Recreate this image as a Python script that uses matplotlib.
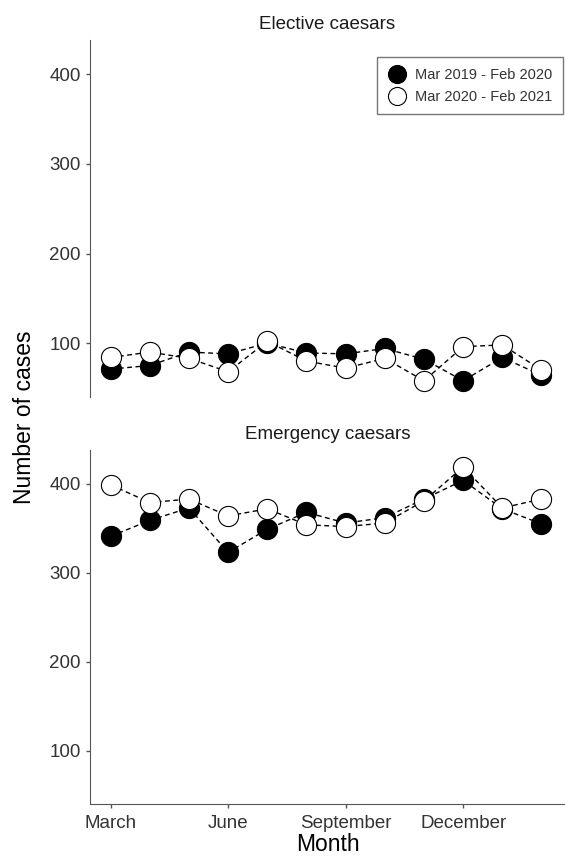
import matplotlib
matplotlib.use("Agg")
import matplotlib.pyplot as plt
from matplotlib.lines import Line2D

plt.rcParams['font.family'] = ['Liberation Sans', 'DejaVu Sans']

months = ['March', 'April', 'May', 'June', 'July', 'August', 'September',
          'October', 'November', 'December', 'January', 'February']
tick_months = ['March', 'June', 'September', 'December']

# elective caesars
elective_2019 = [71, 75, 90, 88, 100, 89, 88, 94, 82, 58, 84, 64]
elective_2020 = [84, 90, 83, 68, 102, 80, 72, 83, 58, 96, 98, 70]

# emergency caesars
emergency_2019 = [341, 359, 373, 323, 349, 368, 356, 362, 383, 404, 372, 355]
emergency_2020 = [399, 379, 383, 364, 372, 354, 352, 356, 381, 419, 373, 383]

labels = ['Mar 2019 - Feb 2020', 'Mar 2020 - Feb 2021']
titles = ['Elective caesars', 'Emergency caesars']

grey = '#333333'
ms = 14.5

fig = plt.figure(figsize=(5.65, 8.59), dpi=100)
ax1 = fig.add_axes([0.159, 0.538, 0.841, 0.415])
ax2 = fig.add_axes([0.159, 0.064, 0.841, 0.412])

x = list(range(len(months)))

for ax, (old, new), title in zip([ax1, ax2],
                                 [(elective_2019, elective_2020),
                                  (emergency_2019, emergency_2020)],
                                 titles):
    ax.plot(x, old, ls=(0, (3.5, 2.5)), color='black', lw=1, zorder=1)
    ax.plot(x, new, ls=(0, (3.5, 2.5)), color='black', lw=1, zorder=1)
    ax.plot(x, old, ls='none', marker='o', ms=ms, mfc='black', mec='black',
            mew=0.8, zorder=2)
    ax.plot(x, new, ls='none', marker='o', ms=ms, mfc='white', mec='black',
            mew=0.8, zorder=3)
    ax.set_xlim(-0.53, 11.6)
    ax.set_ylim(40, 438)
    ax.set_yticks([100, 200, 300, 400])
    ax.set_title(title, fontsize=13.5, color='#1a1a1a', pad=8)
    for s in ['top', 'right']:
        ax.spines[s].set_visible(False)
    ax.spines['left'].set_color('#555555')
    ax.spines['bottom'].set_color('#555555')
    ax.tick_params(axis='both', colors='#555555', labelcolor=grey,
                   labelsize=13.5, length=3, width=1)
    ax.tick_params(axis='x', pad=5)
    ax.set_facecolor('white')

ax1.spines['bottom'].set_visible(False)
ax1.set_xticks([])

ax2.set_xticks([months.index(m) for m in tick_months])
ax2.set_xticklabels(tick_months)

handles = [Line2D([], [], ls='none', marker='o', ms=13, mfc='black',
                  mec='black', mew=0.8),
           Line2D([], [], ls='none', marker='o', ms=13, mfc='white',
                  mec='black', mew=0.8)]
leg = ax1.legend(handles, labels, loc='upper right', bbox_to_anchor=(0.995, 0.952),
                 fontsize=10.5, frameon=True, fancybox=False, handletextpad=0.6,
                 borderpad=0.7, labelspacing=0.55, handlelength=1.3,
                 borderaxespad=0)
leg.get_frame().set_edgecolor('#555555')
leg.get_frame().set_linewidth(1)
for t in leg.get_texts():
    t.set_color(grey)

fig.text(0.044, 0.514, 'Number of cases', rotation=90, ha='center', va='center',
         fontsize=16.5, color='black')
fig.text(0.58, 0.003, 'Month', ha='center', va='bottom', fontsize=16.5,
         color='black')

fig.savefig('out.png', dpi=100)
